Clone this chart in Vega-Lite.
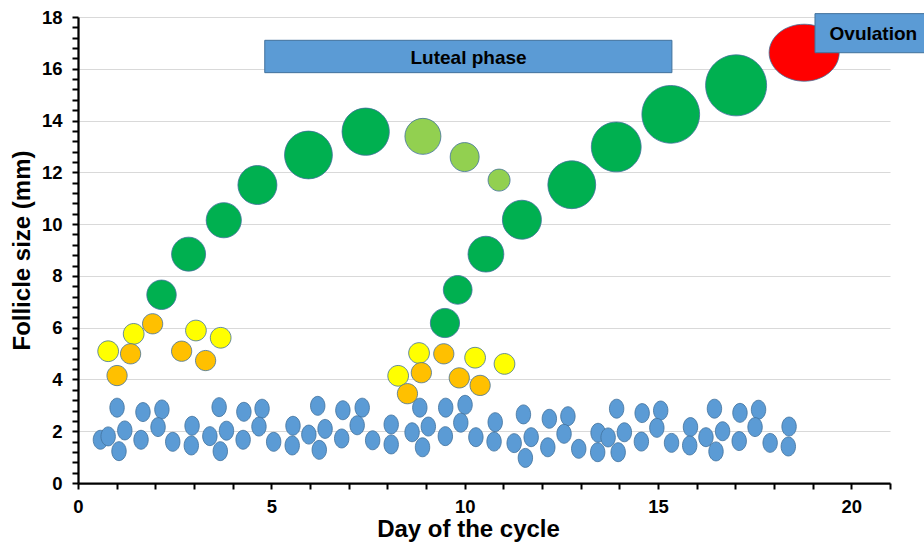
{
  "$schema": "https://vega.github.io/schema/vega-lite/v6.json",
  "width": 812,
  "height": 466,
  "autosize": {"type": "none"},
  "padding": {"left": 78, "top": 17, "right": 34, "bottom": 61},
  "background": "white",
  "config": {"view": {"stroke": null}, "font": "Liberation Sans"},
  "encoding": {
    "x": {
      "field": "day",
      "type": "quantitative",
      "scale": {"domain": [0, 21], "nice": false, "zero": false},
      "axis": {
        "title": "Day of the cycle",
        "values": [0,1,2,3,4,5,6,7,8,9,10,11,12,13,14,15,16,17,18,19,20,21],
        "labelExpr": "datum.value % 5 === 0 ? format(datum.value, 'd') : ''",
        "grid": false,
        "domainColor": "#000000",
        "domainWidth": 2.25,
        "tickColor": "#000000",
        "tickWidth": 2,
        "tickSize": 6,
        "labelFont": "Liberation Sans",
        "labelFontSize": 18.5,
        "labelFontWeight": "bold",
        "labelColor": "#000000",
        "labelPadding": 8,
        "labelFlush": false,
        "labelOverlap": false,
        "titleFont": "Liberation Sans",
        "titleFontSize": 24,
        "titleFontWeight": "bold",
        "titleColor": "#000000",
        "titleX": 390,
        "titleY": 53,
        "titleAlign": "center",
        "titleBaseline": "alphabetic"
      }
    },
    "y": {
      "field": "size",
      "type": "quantitative",
      "scale": {"domain": [0, 18], "nice": false, "zero": true},
      "axis": {
        "title": "Follicle size (mm)",
        "values": [0,0.4,0.8,1.2,1.6,2,2.4,2.8,3.2,3.6,4,4.4,4.8,5.2,5.6,6,6.4,6.8,7.2,7.6,8,8.4,8.8,9.2,9.6,10,10.4,10.8,11.2,11.6,12,12.4,12.8,13.2,13.6,14,14.4,14.8,15.2,15.6,16,16.4,16.8,17.2,17.6,18],
        "labelExpr": "datum.value % 2 === 0 ? format(datum.value, 'd') : ''",
        "grid": true,
        "gridColor": "#D9D9D9",
        "gridWidth": 1,
        "gridOpacity": {"condition": {"test": "datum.value % 2 === 0 && datum.value > 0", "value": 1}, "value": 0},
        "domainColor": "#000000",
        "domainWidth": 2.25,
        "tickColor": "#000000",
        "tickWidth": 2,
        "tickSize": 6,
        "labelFont": "Liberation Sans",
        "labelFontSize": 18.5,
        "labelFontWeight": "bold",
        "labelColor": "#000000",
        "labelPadding": 10,
        "labelFlush": false,
        "labelOverlap": false,
        "titleFont": "Liberation Sans",
        "titleFontSize": 24,
        "titleFontWeight": "bold",
        "titleColor": "#000000",
        "titleX": -49,
        "titleY": 233,
        "titleAngle": 270,
        "titleAlign": "center",
        "titleBaseline": "alphabetic"
      }
    }
  },
  "layer": [
    {
      "data": {
        "values": [
          {"day": 0.58, "size": 1.67, "g": "small", "bubble": 8.8},
          {"day": 0.78, "size": 1.80, "g": "small", "bubble": 8.8},
          {"day": 1.01, "size": 2.91, "g": "small", "bubble": 8.8},
          {"day": 1.21, "size": 2.03, "g": "small", "bubble": 8.8},
          {"day": 1.06, "size": 1.23, "g": "small", "bubble": 8.8},
          {"day": 1.68, "size": 2.74, "g": "small", "bubble": 8.8},
          {"day": 1.63, "size": 1.67, "g": "small", "bubble": 8.8},
          {"day": 2.17, "size": 2.84, "g": "small", "bubble": 8.8},
          {"day": 2.07, "size": 2.16, "g": "small", "bubble": 8.8},
          {"day": 2.45, "size": 1.59, "g": "small", "bubble": 8.8},
          {"day": 2.95, "size": 2.21, "g": "small", "bubble": 8.8},
          {"day": 2.93, "size": 1.45, "g": "small", "bubble": 8.8},
          {"day": 3.41, "size": 1.81, "g": "small", "bubble": 8.8},
          {"day": 3.65, "size": 2.93, "g": "small", "bubble": 8.8},
          {"day": 3.84, "size": 2.02, "g": "small", "bubble": 8.8},
          {"day": 3.68, "size": 1.23, "g": "small", "bubble": 8.8},
          {"day": 4.29, "size": 2.75, "g": "small", "bubble": 8.8},
          {"day": 4.27, "size": 1.67, "g": "small", "bubble": 8.8},
          {"day": 4.76, "size": 2.87, "g": "small", "bubble": 8.8},
          {"day": 4.68, "size": 2.18, "g": "small", "bubble": 8.8},
          {"day": 5.06, "size": 1.59, "g": "small", "bubble": 8.8},
          {"day": 5.56, "size": 2.21, "g": "small", "bubble": 8.8},
          {"day": 5.54, "size": 1.45, "g": "small", "bubble": 8.8},
          {"day": 5.97, "size": 1.87, "g": "small", "bubble": 8.8},
          {"day": 6.20, "size": 2.98, "g": "small", "bubble": 8.8},
          {"day": 6.39, "size": 2.09, "g": "small", "bubble": 8.8},
          {"day": 6.24, "size": 1.28, "g": "small", "bubble": 8.8},
          {"day": 6.85, "size": 2.81, "g": "small", "bubble": 8.8},
          {"day": 6.82, "size": 1.72, "g": "small", "bubble": 8.8},
          {"day": 7.35, "size": 2.91, "g": "small", "bubble": 8.8},
          {"day": 7.22, "size": 2.23, "g": "small", "bubble": 8.8},
          {"day": 7.62, "size": 1.65, "g": "small", "bubble": 8.8},
          {"day": 8.10, "size": 2.26, "g": "small", "bubble": 8.8},
          {"day": 8.10, "size": 1.49, "g": "small", "bubble": 8.8},
          {"day": 8.84, "size": 2.91, "g": "small", "bubble": 8.8},
          {"day": 8.64, "size": 1.96, "g": "small", "bubble": 8.8},
          {"day": 9.06, "size": 2.18, "g": "small", "bubble": 8.8},
          {"day": 8.91, "size": 1.38, "g": "small", "bubble": 8.8},
          {"day": 9.51, "size": 2.91, "g": "small", "bubble": 8.8},
          {"day": 9.50, "size": 1.81, "g": "small", "bubble": 8.8},
          {"day": 10.01, "size": 3.02, "g": "small", "bubble": 8.8},
          {"day": 9.90, "size": 2.33, "g": "small", "bubble": 8.8},
          {"day": 10.29, "size": 1.77, "g": "small", "bubble": 8.8},
          {"day": 10.79, "size": 2.35, "g": "small", "bubble": 8.8},
          {"day": 10.76, "size": 1.60, "g": "small", "bubble": 8.8},
          {"day": 11.28, "size": 1.54, "g": "small", "bubble": 8.8},
          {"day": 11.52, "size": 2.65, "g": "small", "bubble": 8.8},
          {"day": 11.72, "size": 1.77, "g": "small", "bubble": 8.8},
          {"day": 11.57, "size": 0.97, "g": "small", "bubble": 8.8},
          {"day": 12.19, "size": 2.48, "g": "small", "bubble": 8.8},
          {"day": 12.15, "size": 1.38, "g": "small", "bubble": 8.8},
          {"day": 12.67, "size": 2.58, "g": "small", "bubble": 8.8},
          {"day": 12.57, "size": 1.90, "g": "small", "bubble": 8.8},
          {"day": 12.95, "size": 1.32, "g": "small", "bubble": 8.8},
          {"day": 13.45, "size": 1.94, "g": "small", "bubble": 8.8},
          {"day": 13.44, "size": 1.19, "g": "small", "bubble": 8.8},
          {"day": 13.71, "size": 1.76, "g": "small", "bubble": 8.8},
          {"day": 13.93, "size": 2.87, "g": "small", "bubble": 8.8},
          {"day": 14.13, "size": 1.96, "g": "small", "bubble": 8.8},
          {"day": 13.97, "size": 1.19, "g": "small", "bubble": 8.8},
          {"day": 14.59, "size": 2.70, "g": "small", "bubble": 8.8},
          {"day": 14.57, "size": 1.60, "g": "small", "bubble": 8.8},
          {"day": 15.07, "size": 2.80, "g": "small", "bubble": 8.8},
          {"day": 14.97, "size": 2.13, "g": "small", "bubble": 8.8},
          {"day": 15.35, "size": 1.55, "g": "small", "bubble": 8.8},
          {"day": 15.84, "size": 2.16, "g": "small", "bubble": 8.8},
          {"day": 15.82, "size": 1.45, "g": "small", "bubble": 8.8},
          {"day": 16.24, "size": 1.77, "g": "small", "bubble": 8.8},
          {"day": 16.46, "size": 2.87, "g": "small", "bubble": 8.8},
          {"day": 16.67, "size": 2.00, "g": "small", "bubble": 8.8},
          {"day": 16.50, "size": 1.22, "g": "small", "bubble": 8.8},
          {"day": 17.12, "size": 2.71, "g": "small", "bubble": 8.8},
          {"day": 17.10, "size": 1.62, "g": "small", "bubble": 8.8},
          {"day": 17.60, "size": 2.83, "g": "small", "bubble": 8.8},
          {"day": 17.51, "size": 2.16, "g": "small", "bubble": 8.8},
          {"day": 17.90, "size": 1.55, "g": "small", "bubble": 8.8},
          {"day": 18.39, "size": 2.18, "g": "small", "bubble": 8.8},
          {"day": 18.37, "size": 1.41, "g": "small", "bubble": 8.8},
          {"day": 0.78, "size": 5.09, "g": "yellow", "bubble": 10.5},
          {"day": 1.44, "size": 5.76, "g": "yellow", "bubble": 10.5},
          {"day": 3.05, "size": 5.89, "g": "yellow", "bubble": 10.5},
          {"day": 3.69, "size": 5.61, "g": "yellow", "bubble": 10.5},
          {"day": 8.28, "size": 4.14, "g": "yellow", "bubble": 10.5},
          {"day": 8.82, "size": 5.02, "g": "yellow", "bubble": 10.5},
          {"day": 10.27, "size": 4.84, "g": "yellow", "bubble": 10.5},
          {"day": 11.03, "size": 4.60, "g": "yellow", "bubble": 10.5},
          {"day": 1.01, "size": 4.15, "g": "orange", "bubble": 10.0},
          {"day": 1.36, "size": 4.99, "g": "orange", "bubble": 10.0},
          {"day": 1.93, "size": 6.15, "g": "orange", "bubble": 10.0},
          {"day": 2.68, "size": 5.09, "g": "orange", "bubble": 10.0},
          {"day": 3.30, "size": 4.73, "g": "orange", "bubble": 10.0},
          {"day": 8.52, "size": 3.45, "g": "orange", "bubble": 10.0},
          {"day": 8.88, "size": 4.26, "g": "orange", "bubble": 10.0},
          {"day": 9.46, "size": 4.99, "g": "orange", "bubble": 10.0},
          {"day": 9.86, "size": 4.06, "g": "orange", "bubble": 10.0},
          {"day": 10.40, "size": 3.77, "g": "orange", "bubble": 10.0},
          {"day": 2.16, "size": 7.27, "g": "green", "bubble": 21.2},
          {"day": 2.86, "size": 8.84, "g": "green", "bubble": 28.2},
          {"day": 3.77, "size": 10.15, "g": "green", "bubble": 30.2},
          {"day": 4.64, "size": 11.51, "g": "green", "bubble": 37.1},
          {"day": 5.96, "size": 12.67, "g": "green", "bubble": 55.8},
          {"day": 7.44, "size": 13.57, "g": "green", "bubble": 54.6},
          {"day": 9.49, "size": 6.18, "g": "green", "bubble": 20.8},
          {"day": 9.82, "size": 7.46, "g": "green", "bubble": 20.2},
          {"day": 10.55, "size": 8.84, "g": "green", "bubble": 31.3},
          {"day": 11.48, "size": 10.17, "g": "green", "bubble": 37.1},
          {"day": 12.77, "size": 11.52, "g": "green", "bubble": 55.8},
          {"day": 13.92, "size": 12.98, "g": "green", "bubble": 60.5},
          {"day": 15.33, "size": 14.24, "g": "green", "bubble": 81.3},
          {"day": 17.02, "size": 15.36, "g": "green", "bubble": 90.8},
          {"day": 8.92, "size": 13.39, "g": "lightgreen", "bubble": 31.6},
          {"day": 10.00, "size": 12.59, "g": "lightgreen", "bubble": 20.5},
          {"day": 10.89, "size": 11.70, "g": "lightgreen", "bubble": 11.8},
          {"day": 18.78, "size": 16.62, "g": "red", "bubble": 79.3}
        ]
      },
      "mark": {"type": "point", "filled": true, "opacity": 1, "stroke": "#41719C", "strokeWidth": 0.8},
      "encoding": {
        "color": {
          "field": "g",
          "type": "nominal",
          "scale": {
            "domain": ["small", "yellow", "orange", "green", "lightgreen", "red"],
            "range": ["#5B9BD5", "#FFFF00", "#FFC000", "#00B050", "#92D050", "#FF0000"]
          },
          "legend": null
        },
        "shape": {
          "field": "g",
          "type": "nominal",
          "scale": {
            "domain": ["small", "yellow", "orange", "green", "lightgreen", "red"],
            "range": [
              "M0,-1C0.42,-1,0.76,-0.552,0.76,0C0.76,0.552,0.42,1,0,1C-0.42,1,-0.76,0.552,-0.76,0C-0.76,-0.552,-0.42,-1,0,-1Z",
              "M0,-1C0.552,-1,1,-0.552,1,0C1,0.552,0.552,1,0,1C-0.552,1,-1,0.552,-1,0C-1,-0.552,-0.552,-1,0,-1Z",
              "M0,-1C0.552,-1,1,-0.552,1,0C1,0.552,0.552,1,0,1C-0.552,1,-1,0.552,-1,0C-1,-0.552,-0.552,-1,0,-1Z",
              "M0,-1C0.552,-1,1,-0.552,1,0C1,0.552,0.552,1,0,1C-0.552,1,-1,0.552,-1,0C-1,-0.552,-0.552,-1,0,-1Z",
              "M0,-1C0.552,-1,1,-0.552,1,0C1,0.552,0.552,1,0,1C-0.552,1,-1,0.552,-1,0C-1,-0.552,-0.552,-1,0,-1Z",
              "M0,-1C0.679,-1,1.23,-0.552,1.23,0C1.23,0.552,0.679,1,0,1C-0.679,1,-1.23,0.552,-1.23,0C-1.23,-0.552,-0.679,-1,0,-1Z"
            ]
          },
          "legend": null
        },
        "size": {
          "field": "bubble",
          "type": "quantitative",
          "scale": {"type": "linear", "domain": [0, 100], "range": [0, 4096], "zero": true},
          "legend": null
        }
      }
    },
    {
      "data": {
        "values": [
          {"day": 4.83, "day_end": 15.36, "size": 15.85, "size_end": 17.10},
          {"day": 19.06, "day_end": 22.06, "size": 16.62, "size_end": 18.13}
        ]
      },
      "mark": {"type": "rect", "fill": "#5B9BD5", "stroke": "#41719C", "strokeWidth": 1},
      "encoding": {
        "x2": {"field": "day_end"},
        "y2": {"field": "size_end"}
      }
    },
    {
      "data": {
        "values": [
          {"day": 10.10, "size": 16.43, "label": "Luteal phase"},
          {"day": 20.57, "size": 17.35, "label": "Ovulation"}
        ]
      },
      "mark": {"type": "text", "font": "Liberation Sans", "fontSize": 19, "fontWeight": "bold", "fill": "#000000", "align": "center", "baseline": "middle"},
      "encoding": {
        "text": {"field": "label", "type": "nominal"}
      }
    }
  ]
}
